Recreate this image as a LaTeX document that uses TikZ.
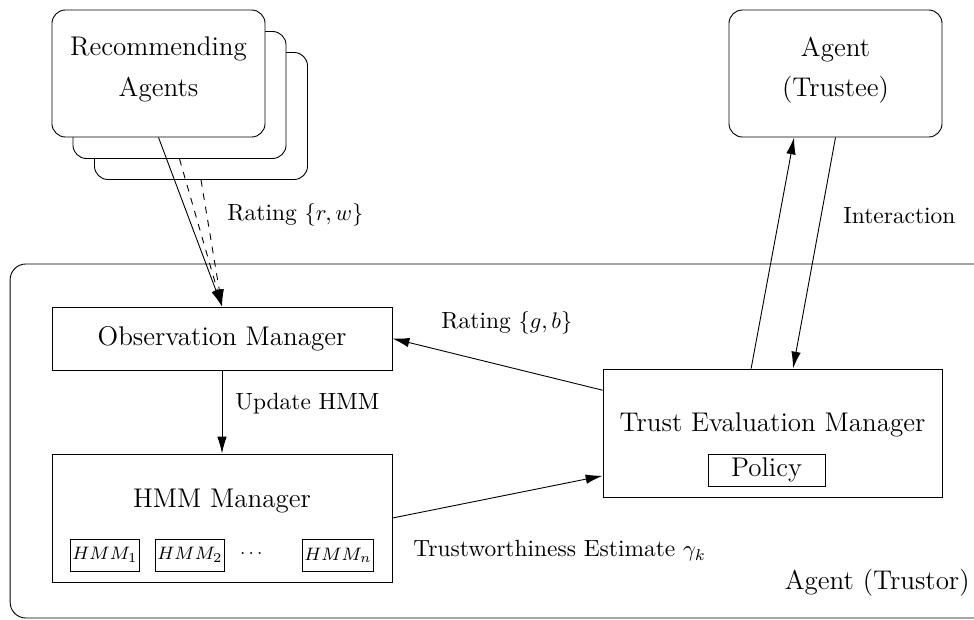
\documentclass[tikz,border=0pt]{standalone}
\usepackage{amsmath,amssymb}
\usetikzlibrary{arrows.meta,positioning,calc}

\begin{document}
\begin{tikzpicture}[x=0.444pt,y=-0.444pt,>={Latex[length=7.5pt,width=4.2pt]},
 agent/.style={rounded corners=6pt,draw,fill=white,minimum width=94.6pt,minimum height=56.4pt,align=center,font=\large},
 mgr/.style={draw,fill=white,minimum width=151pt,minimum height=28pt,font=\large},
 sub/.style={draw,minimum width=28.4pt,minimum height=14.2pt,inner sep=1pt,font=\footnotesize},
 txt/.style={font=\large},
 lbl/.style={anchor=west,inner sep=0pt,font=\fontsize{10.4}{12.5}\selectfont}]
\useasboundingbox (0,0) rectangle (974,620);
\node[draw,rounded corners=7pt,minimum width=435pt,minimum height=157.2pt] (trustor) at (500,441) {};
\node[txt,anchor=east,inner sep=0pt] (trustorlbl) at (970,583) {Agent (Trustor)};
\node[agent] (recc) at (201,116) {};
\node[agent] (recb) at (179.5,95) {};
\node[agent] (rec) at (158.5,73.5) {Recommending\\[4pt]Agents\\[-8pt]\mbox{}};
\node[agent] (trustee) at (835.5,73.5) {Agent\\[4pt](Trustee)\\[-8pt]\mbox{}};
\node[mgr] (obs) at (222,338.5) {Observation Manager};
\node[mgr,minimum height=56.8pt] (hmm) at (222,518) {};
\node[txt] (hmmlbl) at (222,501) {HMM Manager};
\node[sub] (hmma) at (105,555) {$HMM_1$};
\node[sub] (hmmb) at (190,555) {$HMM_2$};
\node[font=\footnotesize] (hmmdots) at (253,553) {$\dots$};
\node[sub] (hmmn) at (338,555) {$HMM_n$};
\node[mgr,minimum width=150.5pt,minimum height=56.8pt] (tem) at (772.5,433) {};
\node[txt] (temlbl) at (772.5,425) {Trust Evaluation Manager};
\node[draw,minimum width=52pt,minimum height=14.2pt,inner sep=1pt,font=\large] (pol) at (766.5,470) {Policy};
\draw[->] (rec.south)--(obs.north);
\draw[->,dashed] (recb.south)--(obs.north);
\draw[->,dashed] (recc.south)--(obs.north);
\node[lbl] (rrw) at (227,215) {Rating $\{r,w\}$};
\draw[->] (obs.south)--(hmm.north);
\node[lbl] (upd) at (235,404) {Update HMM};
\draw[->] ([yshift=19pt]tem.west)--(obs.east);
\node[lbl] (rgb) at (441,323) {Rating $\{g,b\}$};
\draw[->] (hmm.east)--([yshift=-19pt]tem.west);
\node[lbl] (est) at (413,551) {Trustworthiness Estimate $\gamma_k$};
\draw[->] ([xshift=-9.5pt]tem.north)--([xshift=-18.4pt]trustee.south);
\draw[->] (trustee.south)--([xshift=9.1pt]tem.north);
\node[lbl] (inter) at (843,216) {Interaction};
\end{tikzpicture}
\end{document}
